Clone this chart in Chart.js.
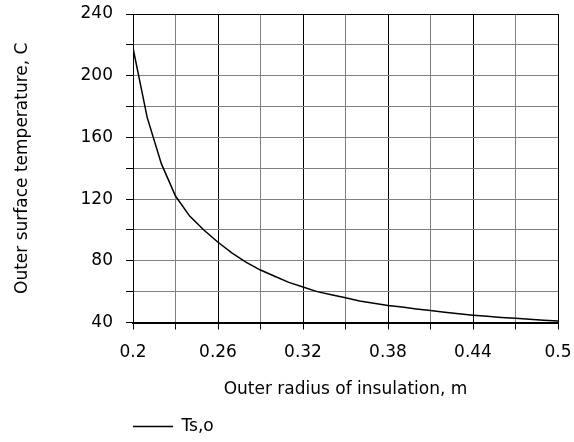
<!DOCTYPE html>
<html>
<head>
<meta charset="utf-8">
<script src="https://cdn.jsdelivr.net/npm/chart.js@4"></script>
<style>
  body { margin: 0; background: #fff; }
</style>
</head>
<body>
<canvas id="tempChart" width="574" height="442"></canvas>
<script>
// outer radius of insulation (m) and surface temperature (C)
const radius = [0.20, 0.21, 0.22, 0.23, 0.24, 0.25, 0.26, 0.27, 0.28, 0.29, 0.30,
                0.31, 0.32, 0.33, 0.34, 0.35, 0.36, 0.37, 0.38, 0.39, 0.40,
                0.41, 0.42, 0.43, 0.44, 0.45, 0.46, 0.47, 0.48, 0.49, 0.50];
const surfaceTemp = [218, 173, 143, 122, 109, 100, 92, 85, 79, 74, 70,
                     66, 63, 60, 58, 56, 54, 52.5, 51, 50, 48.8,
                     47.8, 46.6, 45.6, 44.7, 44, 43.3, 42.7, 42.1, 41.5, 41];

const xTickValues = [0.2, 0.23, 0.26, 0.29, 0.32, 0.35, 0.38, 0.41, 0.44, 0.47, 0.5];
const xTickLabels = ['0.2', '', '0.26', '', '0.32', '', '0.38', '', '0.44', '', '0.5'];
const yTickValues = [40, 60, 80, 100, 120, 140, 160, 180, 200, 220, 240];
const yTickLabels = ['40', '', '80', '', '120', '', '160', '', '200', '', '240'];

const fontFamily = '"DejaVu Sans", "Liberation Sans", Arial, sans-serif';

const ctx = document.getElementById('tempChart').getContext('2d');

new Chart(ctx, {
    type: 'line',
    data: {
        datasets: [{
            label: 'Ts,o',
            data: radius.map((r, i) => ({ x: r, y: surfaceTemp[i] })),
            borderColor: '#000',
            backgroundColor: '#000',
            borderWidth: 1.5,
            pointRadius: 0,
            tension: 0
        }]
    },
    options: {
        responsive: false,
        animation: false,
        devicePixelRatio: 1,
        layout: {
            padding: { top: 14, right: 16, left: 0, bottom: -3 }
        },
        plugins: {
            tooltip: { enabled: false },
            legend: {
                position: 'bottom',
                align: 'start',
                fullSize: false,
                labels: {
                    color: '#000',
                    font: { family: fontFamily, size: 17 },
                    usePointStyle: true,
                    pointStyle: 'line',
                    pointStyleWidth: 40,
                    padding: 0
                }
            }
        },
        scales: {
            x: {
                type: 'linear',
                min: 0.2,
                max: 0.5,
                afterBuildTicks: scale => {
                    scale.ticks = xTickValues.map(v => ({ value: v }));
                },
                afterFit: scale => {
                    scale.height = 95.5;
                    scale.paddingLeft = 0;
                    scale.paddingRight = 0;
                },
                ticks: {
                    autoSkip: false,
                    maxRotation: 0,
                    color: '#000',
                    padding: 13,
                    font: { family: fontFamily, size: 17 },
                    callback: (val, i) => xTickLabels[i]
                },
                grid: {
                    color: c => xTickLabels[c.index] ? '#000' : '#808080',
                    tickColor: '#000',
                    tickLength: 7,
                    lineWidth: 1
                },
                border: { color: '#000', width: 2 },
                title: {
                    display: true,
                    text: 'Outer radius of insulation, m',
                    color: '#000',
                    font: { family: fontFamily, size: 17 },
                    padding: { top: 0, bottom: 18 }
                }
            },
            y: {
                min: 40,
                max: 240,
                afterBuildTicks: scale => {
                    scale.ticks = yTickValues.map(v => ({ value: v }));
                },
                afterFit: scale => {
                    scale.width = 133;
                    scale.paddingTop = 0;
                    scale.paddingBottom = 0;
                },
                ticks: {
                    autoSkip: false,
                    color: '#000',
                    padding: 13,
                    font: { family: fontFamily, size: 17 },
                    callback: (val, i) => yTickLabels[i]
                },
                grid: {
                    color: c => c.index === yTickValues.length - 1 ? '#000' : '#808080',
                    tickColor: '#000',
                    tickLength: 7,
                    lineWidth: 1
                },
                border: { color: '#000', width: 1 },
                title: {
                    display: true,
                    text: 'Outer surface temperature, C',
                    color: '#000',
                    font: { family: fontFamily, size: 17 },
                    padding: { top: 12, bottom: 0 }
                }
            }
        }
    }
});
</script>
</body>
</html>
